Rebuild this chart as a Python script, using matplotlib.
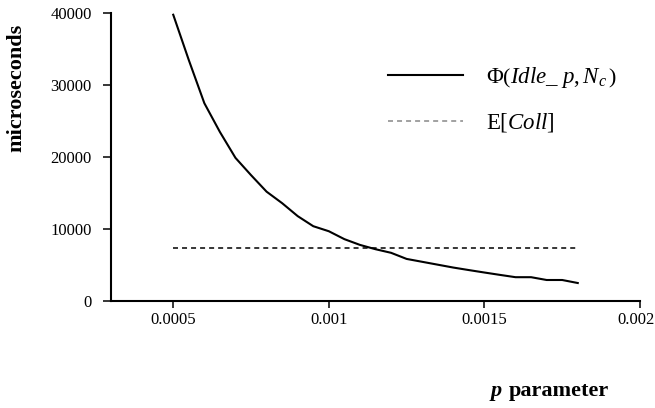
import matplotlib
matplotlib.use("Agg")
import matplotlib.pyplot as plt
from matplotlib.transforms import ScaledTranslation

plt.rcParams['font.family'] = ['Liberation Serif', 'DejaVu Serif']
plt.rcParams['mathtext.fontset'] = 'custom'
plt.rcParams['mathtext.rm'] = 'Liberation Serif'
plt.rcParams['mathtext.it'] = 'Liberation Serif:italic'
plt.rcParams['mathtext.bf'] = 'Liberation Serif:bold'
plt.rcParams['lines.scale_dashes'] = False

# Data
p_values = [0.0005, 0.00055, 0.0006, 0.00065, 0.0007, 0.00075, 0.0008, 0.00085,
            0.0009, 0.00095, 0.001, 0.00105, 0.0011, 0.00115, 0.0012, 0.00125,
            0.0013, 0.00135, 0.0014, 0.00145, 0.0015, 0.00155, 0.0016, 0.00165,
            0.0017, 0.00175, 0.0018]
phi_values = [39800, 33500, 27500, 23500, 19900, 17500, 15200, 13600,
              11800, 10400, 9700, 8600, 7800, 7200, 6700, 5850,
              5450, 5050, 4650, 4300, 3960, 3630, 3310, 3310,
              2920, 2920, 2500]
coll_p = [0.0005, 0.0018]
coll_values = [7400, 7400]

x_ticks = [0.0005, 0.001, 0.0015, 0.002]
x_tick_labels = ["0.0005", "0.001", "0.0015", "0.002"]
y_ticks = [0, 10000, 20000, 30000, 40000]
y_tick_labels = ["0", "10000", "20000", "30000", "40000"]

label_phi = r'$\Phi\left(Idle\_\ p,N_c\,\right)$'
label_coll = r'E[$Coll$]'

fig = plt.figure(figsize=(6.55, 4.08), dpi=100)
ax = fig.add_axes([111/655, 1-301/408, (640-111)/655, (301-13.3)/408])

ax.plot(p_values, phi_values, color='black', linewidth=1.5, label=label_phi)
ax.plot(coll_p, coll_values, color='black', linewidth=1.1,
        linestyle=(0, (3.6, 2.9)), label=label_coll)

ax.set_xlim(0.0003, 0.002)
ax.set_ylim(0, 40000)
ax.set_xticks(x_ticks)
ax.set_xticklabels(x_tick_labels)
ax.set_yticks(y_ticks)
ax.set_yticklabels(y_tick_labels)

for s in ['top', 'right']:
    ax.spines[s].set_visible(False)
for s in ['left', 'bottom']:
    ax.spines[s].set_linewidth(1.5)

ax.tick_params(axis='x', direction='out', length=5, width=1.1, pad=3, labelsize=12)
ax.tick_params(axis='y', direction='out', length=6, width=1.1, pad=8, labelsize=12)

# shift last x tick label slightly left so it stays within the figure
last = ax.get_xticklabels()[-1]
last.set_transform(last.get_transform() + ScaledTranslation(-4/100, 0, fig.dpi_scale_trans))

leg = ax.legend(loc='upper left', bbox_to_anchor=((388-111)/529, (301-65)/287.7),
                frameon=False, fontsize=16.5, handlelength=3.27, handletextpad=1.0,
                labelspacing=0.92, borderpad=0, borderaxespad=0)
leg.get_lines()[1].set_color('#888888')

fig.text(16.5/655, 1-88/408, 'microseconds', rotation=90, ha='center', va='center',
         fontsize=16, fontweight='bold')
fig.text(491/655, 1-396/408, 'p', fontsize=16, fontweight='bold', fontstyle='italic',
         ha='left', va='baseline')
fig.text(509/655, 1-396/408, 'parameter', fontsize=16, fontweight='bold',
         ha='left', va='baseline')

fig.savefig('out.png', dpi=100)
